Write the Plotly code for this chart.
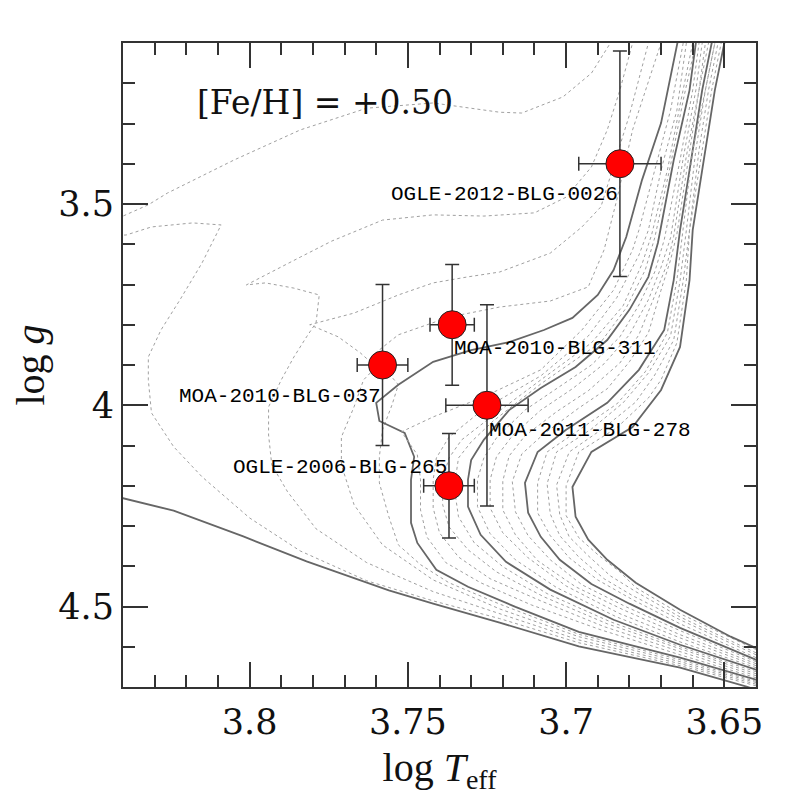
import plotly.graph_objects as go

# source stars (log Teff, log g) with 1-sigma errors
names = ["OGLE-2012-BLG-0026", "MOA-2010-BLG-311", "MOA-2010-BLG-037",
         "MOA-2011-BLG-278", "OGLE-2006-BLG-265"]
logt = [3.683, 3.736, 3.758, 3.725, 3.737]
logt_err = [0.013, 0.007, 0.008, 0.013, 0.008]
logg = [3.40, 3.80, 3.90, 4.00, 4.20]
logg_err = [0.28, 0.15, 0.20, 0.25, 0.13]

xtick_vals = [3.8, 3.75, 3.7, 3.65]
xtick_text = ["3.8", "3.75", "3.7", "3.65"]
ytick_vals = [3.5, 4.0, 4.5]
ytick_text = ["3.5", "4", "4.5"]

# isochrones, [Fe/H]=+0.50, youngest first (every 5th one drawn solid)
iso00_t = [3.845, 3.840, 3.824, 3.802, 3.782, 3.756, 3.742, 3.721, 3.696, 3.664, 3.643, 3.638]
iso00_g = [4.224, 4.231, 4.262, 4.326, 4.388, 4.460, 4.493, 4.540, 4.599, 4.652, 4.699, 4.712]

iso01_t = [3.640, 3.664, 3.696, 3.721, 3.742, 3.763, 3.784, 3.800, 3.815, 3.824, 3.831, 3.832,
           3.832, 3.828, 3.822, 3.815, 3.809, 3.818, 3.831, 3.839, 3.850, 3.850, 3.840, 3.832,
           3.826, 3.805, 3.784, 3.763, 3.742, 3.721, 3.714, 3.701, 3.692, 3.686, 3.684]
iso01_g = [4.697, 4.647, 4.590, 4.530, 4.486, 4.436, 4.362, 4.280, 4.178, 4.103, 4.019, 3.937,
           3.880, 3.813, 3.738, 3.646, 3.552, 3.547, 3.557, 3.577, 3.580, 3.525, 3.530, 3.502,
           3.473, 3.391, 3.316, 3.262, 3.249, 3.272, 3.274, 3.234, 3.175, 3.100, 3.080]

iso02_t = [3.640, 3.664, 3.696, 3.721, 3.742, 3.763, 3.779, 3.788, 3.793, 3.794, 3.794, 3.790,
           3.786, 3.782, 3.779, 3.778, 3.786, 3.795, 3.801, 3.784, 3.774, 3.758, 3.742, 3.726,
           3.710, 3.700, 3.692, 3.687, 3.683, 3.679, 3.678]
iso02_g = [4.693, 4.642, 4.583, 4.518, 4.463, 4.391, 4.307, 4.215, 4.148, 4.074, 4.004, 3.937,
           3.880, 3.830, 3.795, 3.726, 3.709, 3.696, 3.701, 3.632, 3.592, 3.540, 3.527, 3.530,
           3.522, 3.483, 3.408, 3.316, 3.217, 3.100, 3.080]

iso03_t = [3.640, 3.664, 3.696, 3.721, 3.742, 3.758, 3.767, 3.771, 3.771, 3.767, 3.764, 3.760,
           3.765, 3.772, 3.781, 3.767, 3.753, 3.742, 3.731, 3.721, 3.705, 3.695, 3.689, 3.685,
           3.680, 3.674, 3.673]
iso03_g = [4.689, 4.637, 4.575, 4.506, 4.434, 4.347, 4.247, 4.148, 4.079, 4.004, 3.937, 3.905,
           3.870, 3.830, 3.800, 3.771, 3.726, 3.696, 3.681, 3.669, 3.622, 3.557, 3.507, 3.403,
           3.279, 3.100, 3.080]

iso04_t = [3.640, 3.664, 3.696, 3.721, 3.737, 3.746, 3.753, 3.756, 3.759, 3.759, 3.758, 3.755,
           3.753, 3.761, 3.753, 3.737, 3.721, 3.705, 3.693, 3.688, 3.684, 3.679, 3.670, 3.669]
iso04_g = [4.686, 4.632, 4.569, 4.494, 4.441, 4.396, 4.347, 4.277, 4.193, 4.128, 4.061, 3.999,
           3.949, 3.875, 3.825, 3.781, 3.756, 3.741, 3.706, 3.614, 3.490, 3.316, 3.100, 3.080]

iso05_t = [3.637, 3.640, 3.664, 3.696, 3.716, 3.731, 3.741, 3.747, 3.749, 3.749, 3.748, 3.751,
           3.759, 3.760, 3.753, 3.742, 3.730, 3.718, 3.707, 3.698, 3.690, 3.685, 3.681, 3.676,
           3.670, 3.665, 3.664]
iso05_g = [4.692, 4.682, 4.627, 4.563, 4.501, 4.451, 4.409, 4.342, 4.292, 4.185, 4.128, 4.069,
           4.039, 3.994, 3.949, 3.892, 3.863, 3.843, 3.813, 3.783, 3.726, 3.664, 3.582, 3.440,
           3.299, 3.100, 3.068]

iso06_t = [3.640, 3.664, 3.689, 3.711, 3.727, 3.738, 3.744, 3.746, 3.746, 3.747, 3.752, 3.742,
           3.726, 3.708, 3.695, 3.685, 3.679, 3.677, 3.672, 3.667, 3.663, 3.662]
iso06_g = [4.677, 4.620, 4.558, 4.496, 4.441, 4.391, 4.327, 4.260, 4.185, 4.123, 4.066, 4.029,
           3.979, 3.912, 3.813, 3.714, 3.614, 3.565, 3.416, 3.267, 3.100, 3.080]

iso07_t = [3.640, 3.664, 3.688, 3.708, 3.724, 3.734, 3.740, 3.742, 3.742, 3.741, 3.737, 3.726,
           3.708, 3.693, 3.684, 3.677, 3.674, 3.670, 3.665, 3.662, 3.661]
iso07_g = [4.672, 4.612, 4.550, 4.486, 4.431, 4.377, 4.317, 4.255, 4.185, 4.131, 4.079, 4.009,
           3.927, 3.828, 3.733, 3.627, 3.565, 3.416, 3.267, 3.100, 3.080]

iso08_t = [3.640, 3.664, 3.687, 3.707, 3.722, 3.731, 3.737, 3.739, 3.739, 3.737, 3.733, 3.724,
           3.708, 3.692, 3.682, 3.676, 3.673, 3.668, 3.664, 3.660, 3.659]
iso08_g = [4.667, 4.605, 4.543, 4.476, 4.414, 4.359, 4.302, 4.247, 4.185, 4.131, 4.086, 4.031,
           3.937, 3.845, 3.753, 3.649, 3.577, 3.416, 3.254, 3.100, 3.080]

iso09_t = [3.640, 3.664, 3.686, 3.706, 3.720, 3.729, 3.734, 3.735, 3.735, 3.734, 3.730, 3.723,
           3.708, 3.689, 3.681, 3.675, 3.672, 3.667, 3.663, 3.659, 3.658]
iso09_g = [4.662, 4.600, 4.538, 4.468, 4.401, 4.342, 4.277, 4.223, 4.185, 4.131, 4.091, 4.039,
           3.947, 3.843, 3.758, 3.664, 3.584, 3.403, 3.242, 3.100, 3.080]

iso10_t = [3.637, 3.640, 3.664, 3.685, 3.705, 3.719, 3.727, 3.731, 3.731, 3.730, 3.726, 3.718,
           3.708, 3.697, 3.687, 3.680, 3.674, 3.671, 3.666, 3.661, 3.659, 3.658]
iso10_g = [4.665, 4.657, 4.595, 4.533, 4.458, 4.389, 4.322, 4.252, 4.185, 4.136, 4.086, 4.012,
           3.957, 3.905, 3.838, 3.763, 3.681, 3.597, 3.391, 3.217, 3.100, 3.080]

iso11_t = [3.640, 3.664, 3.684, 3.703, 3.716, 3.724, 3.728, 3.728, 3.726, 3.722, 3.713, 3.703,
           3.692, 3.683, 3.677, 3.672, 3.669, 3.664, 3.660, 3.658, 3.657]
iso11_g = [4.652, 4.588, 4.526, 4.453, 4.384, 4.319, 4.252, 4.185, 4.131, 4.081, 4.012, 3.959,
           3.900, 3.830, 3.751, 3.669, 3.589, 3.391, 3.217, 3.100, 3.080]

iso12_t = [3.640, 3.664, 3.683, 3.700, 3.712, 3.720, 3.724, 3.724, 3.722, 3.717, 3.708, 3.698,
           3.688, 3.680, 3.674, 3.670, 3.667, 3.663, 3.659, 3.657, 3.656]
iso12_g = [4.647, 4.578, 4.518, 4.449, 4.379, 4.317, 4.255, 4.185, 4.128, 4.076, 4.012, 3.959,
           3.897, 3.825, 3.738, 3.657, 3.584, 3.386, 3.217, 3.100, 3.080]

iso13_t = [3.640, 3.664, 3.682, 3.697, 3.709, 3.716, 3.720, 3.720, 3.718, 3.713, 3.703, 3.693,
           3.683, 3.677, 3.672, 3.668, 3.666, 3.662, 3.658, 3.656, 3.655]
iso13_g = [4.642, 4.570, 4.508, 4.451, 4.386, 4.322, 4.260, 4.188, 4.126, 4.076, 4.016, 3.964,
           3.895, 3.825, 3.728, 3.647, 3.580, 3.381, 3.217, 3.100, 3.080]

iso14_t = [3.640, 3.664, 3.681, 3.695, 3.705, 3.712, 3.716, 3.717, 3.714, 3.707, 3.696, 3.687,
           3.680, 3.674, 3.670, 3.667, 3.665, 3.661, 3.658, 3.655, 3.654]
iso14_g = [4.637, 4.560, 4.501, 4.446, 4.384, 4.324, 4.265, 4.190, 4.121, 4.071, 4.007, 3.959,
           3.892, 3.820, 3.714, 3.639, 3.575, 3.373, 3.217, 3.100, 3.080]

iso15_t = [3.637, 3.640, 3.664, 3.680, 3.692, 3.702, 3.708, 3.712, 3.713, 3.709, 3.700, 3.687,
           3.677, 3.669, 3.666, 3.664, 3.660, 3.657, 3.654, 3.653]
iso15_g = [4.642, 4.632, 4.553, 4.493, 4.444, 4.384, 4.327, 4.267, 4.193, 4.116, 4.061, 3.994,
           3.912, 3.813, 3.689, 3.565, 3.366, 3.217, 3.100, 3.080]

iso16_t = [3.640, 3.664, 3.679, 3.690, 3.699, 3.705, 3.709, 3.709, 3.706, 3.696, 3.684, 3.675,
           3.668, 3.665, 3.663, 3.660, 3.656, 3.653, 3.652]
iso16_g = [4.627, 4.543, 4.483, 4.434, 4.379, 4.324, 4.267, 4.193, 4.116, 4.061, 3.997, 3.917,
           3.820, 3.689, 3.565, 3.366, 3.217, 3.100, 3.080]

iso17_t = [3.640, 3.664, 3.679, 3.688, 3.696, 3.702, 3.705, 3.706, 3.703, 3.692, 3.682, 3.674,
           3.667, 3.664, 3.662, 3.659, 3.656, 3.653, 3.652]
iso17_g = [4.620, 4.533, 4.473, 4.431, 4.377, 4.324, 4.270, 4.195, 4.116, 4.059, 3.994, 3.920,
           3.828, 3.691, 3.565, 3.366, 3.217, 3.100, 3.080]

iso18_t = [3.640, 3.664, 3.678, 3.686, 3.693, 3.699, 3.702, 3.703, 3.699, 3.688, 3.678, 3.672,
           3.666, 3.663, 3.661, 3.658, 3.655, 3.652, 3.651]
iso18_g = [4.615, 4.526, 4.463, 4.424, 4.374, 4.327, 4.272, 4.198, 4.116, 4.056, 3.992, 3.925,
           3.838, 3.691, 3.565, 3.366, 3.217, 3.100, 3.080]

iso19_t = [3.640, 3.664, 3.678, 3.683, 3.690, 3.696, 3.700, 3.700, 3.696, 3.684, 3.674, 3.670,
           3.665, 3.662, 3.661, 3.657, 3.654, 3.651, 3.650]
iso19_g = [4.607, 4.518, 4.453, 4.414, 4.371, 4.329, 4.274, 4.200, 4.116, 4.056, 3.982, 3.937,
           3.845, 3.689, 3.565, 3.366, 3.217, 3.100, 3.080]

iso20_t = [3.637, 3.640, 3.648, 3.664, 3.678, 3.687, 3.693, 3.697, 3.698, 3.692, 3.679, 3.670,
           3.664, 3.661, 3.660, 3.656, 3.653, 3.650, 3.649]
iso20_g = [4.612, 4.603, 4.575, 4.508, 4.441, 4.384, 4.334, 4.277, 4.203, 4.116, 4.054, 3.962,
           3.855, 3.689, 3.565, 3.366, 3.217, 3.100, 3.080]

isochrones = [
    (iso00_t, iso00_g), (iso01_t, iso01_g), (iso02_t, iso02_g), (iso03_t, iso03_g),
    (iso04_t, iso04_g), (iso05_t, iso05_g), (iso06_t, iso06_g), (iso07_t, iso07_g),
    (iso08_t, iso08_g), (iso09_t, iso09_g), (iso10_t, iso10_g), (iso11_t, iso11_g),
    (iso12_t, iso12_g), (iso13_t, iso13_g), (iso14_t, iso14_g), (iso15_t, iso15_g),
    (iso16_t, iso16_g), (iso17_t, iso17_g), (iso18_t, iso18_g), (iso19_t, iso19_g),
    (iso20_t, iso20_g),
]

fig = go.Figure()

for i, (t, g) in enumerate(isochrones):
    if i % 5 == 0:
        style = dict(color="#666666", width=1.8)
    else:
        style = dict(color="#a0a0a0", width=1, dash="dot")
    fig.add_trace(go.Scatter(x=t, y=g, mode="lines", line=style,
                             hoverinfo="skip", showlegend=False))

fig.add_trace(go.Scatter(
    x=logt, y=logg, mode="markers", text=names, showlegend=False,
    marker=dict(size=28, color="#ff0000", line=dict(color="#222222", width=1)),
    error_x=dict(type="data", array=logt_err, color="#333333", thickness=1.5, width=7),
    error_y=dict(type="data", array=logg_err, color="#333333", thickness=1.5, width=7),
))

# labels: which side of the point, and how far below (-) / above (+)
label_place = [("right", -31), ("left", -24), ("right", -31), ("left", -25), ("right", 18)]
for name, t, g, (side, dy) in zip(names, logt, logg, label_place):
    fig.add_annotation(x=t, y=g, text=name, showarrow=False,
                       xanchor=side, yanchor="middle", yshift=dy,
                       font=dict(family="Liberation Mono", size=21, color="#000000"))

fig.add_annotation(x=3.7762, y=3.249, text="[Fe/H] = +0.50", showarrow=False,
                   xanchor="center", yanchor="middle",
                   font=dict(family="DejaVu Serif", size=33, color="#111111"))

axis_style = dict(
    showgrid=False, zeroline=False, showline=True, linecolor="#333333", linewidth=2,
    mirror="allticks", ticks="inside", ticklen=25, tickwidth=1.5, tickcolor="#333333",
    tickfont=dict(family="DejaVu Serif", size=35, color="#111111"), automargin=False,
)

fig.update_xaxes(
    range=[3.84, 3.64], tickvals=xtick_vals, ticktext=xtick_text,
    ticklabelstandoff=3,
    minor=dict(dtick=0.01, tick0=3.64, ticks="inside", ticklen=12,
               tickwidth=1.5, tickcolor="#333333"),
    title=dict(text="log <i>T</i><sub>eff</sub>", standoff=12,
               font=dict(family="Liberation Serif", size=40, color="#111111")),
    **axis_style,
)
fig.update_yaxes(
    range=[4.7, 3.1], tickvals=ytick_vals, ticktext=ytick_text,
    minor=dict(dtick=0.1, tick0=3.1, ticks="inside", ticklen=12,
               tickwidth=1.5, tickcolor="#333333"),
    title=dict(text="log <i>g</i>", standoff=20,
               font=dict(family="Liberation Serif", size=40, color="#111111")),
    **axis_style,
)

# the page body adds an 8 px offset, so the figure is 8 px smaller
fig.update_layout(
    width=789, height=789,
    margin=dict(l=115, r=41, t=35, b=110),
    paper_bgcolor="white", plot_bgcolor="white",
    showlegend=False,
)

fig.write_html("out.html")
